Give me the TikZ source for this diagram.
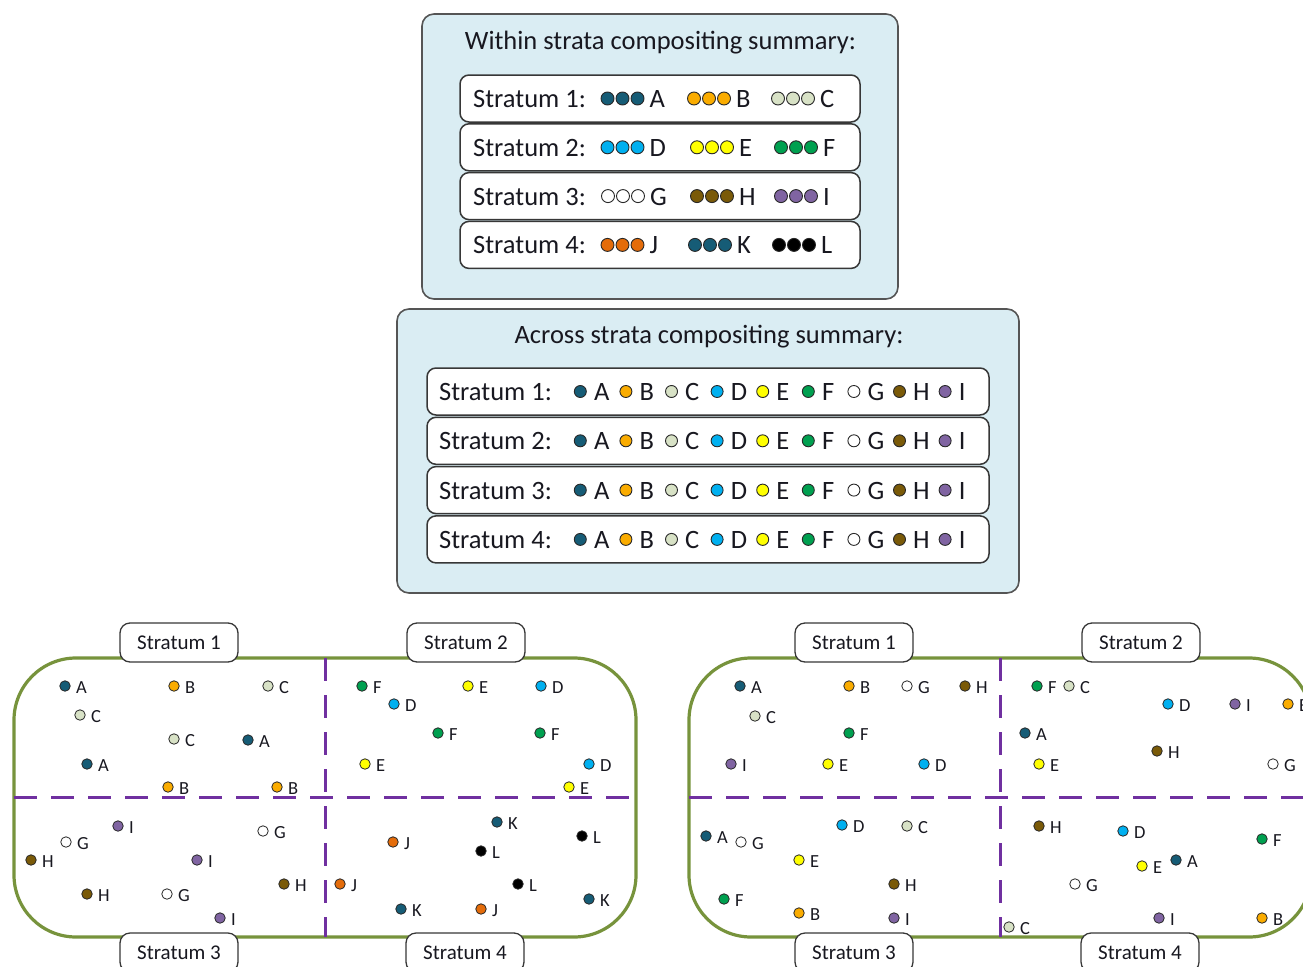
\documentclass[tikz,border=0pt]{standalone}
\usepackage{fontspec}
\setmainfont{Carlito}
\definecolor{cA}{RGB}{22,92,118}
\definecolor{cB}{RGB}{250,172,0}
\definecolor{cC}{RGB}{216,226,198}
\definecolor{cD}{RGB}{0,176,240}
\definecolor{cE}{RGB}{255,255,0}
\definecolor{cF}{RGB}{0,160,80}
\definecolor{cG}{RGB}{255,255,255}
\definecolor{cH}{RGB}{122,90,8}
\definecolor{cI}{RGB}{128,100,162}
\definecolor{cJ}{RGB}{228,108,10}
\definecolor{cK}{RGB}{22,92,118}
\definecolor{cL}{RGB}{0,0,0}
\definecolor{boxfill}{RGB}{218,237,243}
\definecolor{boxline}{RGB}{85,85,85}
\definecolor{rowline}{RGB}{55,55,55}
\definecolor{dotline}{RGB}{40,40,40}
\definecolor{txt}{RGB}{24,24,32}
\definecolor{panelgreen}{RGB}{119,147,60}
\definecolor{divpurple}{RGB}{112,48,160}
\begin{document}
\begin{tikzpicture}[x=1pt,y=-1pt,
  outerbox/.style={draw=boxline, line width=1.6pt, fill=boxfill, rounded corners=12pt, inner sep=0pt},
  rowbox/.style={draw=rowline, line width=1.5pt, fill=white, rounded corners=9pt, inner sep=0pt},
  bigdot/.style={circle, draw=dotline, line width=0.9pt, minimum size=13pt, inner sep=0pt},
  middot/.style={circle, draw=dotline, line width=0.9pt, minimum size=12pt, inner sep=0pt},
  smalldot/.style={circle, draw=dotline, line width=0.8pt, minimum size=10.5pt, inner sep=0pt},
  bigtext/.style={font=\fontsize{26.5}{31}\selectfont, text=txt, inner sep=0pt, anchor=base west},
  titletext/.style={font=\fontsize{26.5}{31}\selectfont, text=txt, inner sep=0pt, anchor=base},
  plab/.style={font=\fontsize{18.5}{21}\selectfont, text=txt, inner sep=0pt, anchor=base west},
  panel/.style={draw=panelgreen, line width=3.2pt, rounded corners=62pt},
  divider/.style={draw=divpurple, line width=3pt, dash pattern=on 23pt off 14pt},
  stratlab/.style={draw=rowline, line width=1.3pt, fill=white, rounded corners=10pt,
    minimum width=118pt, minimum height=39pt, inner sep=0pt,
    font=\fontsize{21}{24}\selectfont, text=txt}
]
\useasboundingbox (0,0) rectangle (1303,966);

% ---------- Within strata box ----------
\node[outerbox, minimum width=476pt, minimum height=285pt] (within) at (660,156.5) {};
\node[titletext] (wtitle) at (660.5,49) {Within strata compositing summary:};
\foreach \r/\yc/\xa/\La/\xb/\Lb/\xc/\Lc in {
  1/98.5/607.5/A/694/B/778/C,
  2/147.3/607.5/D/697/E/781/F,
  3/196.1/608/G/697/H/781/I,
  4/244.9/607.5/J/695/K/779/L} {
  \node[rowbox, minimum width=400pt, minimum height=47pt] (wrow\r) at (660,\yc) {};
  \node[bigtext] (wlab\r) at (473,\yc+9) {Stratum \r:};
  \foreach \gx/\L [count=\g] in {\xa/\La,\xb/\Lb,\xc/\Lc} {
    \foreach \k in {0,1,2} {
      \node[bigdot, fill=c\L] (w\r-\g-\k) at (\gx+15*\k,\yc) {};
    }
    \node[bigtext] (w\r-\g-t) at (\gx+42,\yc+9) {\L};
  }
}

% ---------- Across strata box ----------
\node[outerbox, minimum width=622pt, minimum height=284pt] (across) at (708,451) {};
\node[titletext] (atitle) at (709,343) {Across strata compositing summary:};
\foreach \r/\yc in {1/391.5,2/440.8,3/490.1,4/539.4} {
  \node[rowbox, minimum width=562pt, minimum height=47pt] (arow\r) at (708,\yc) {};
  \node[bigtext] (alab\r) at (439,\yc+9) {Stratum \r:};
  \foreach \L [count=\k from 0] in {A,B,C,D,E,F,G,H,I} {
    \node[middot, fill=c\L] (a\r-\k) at (580.3+45.6*\k,\yc) {};
    \node[bigtext] (a\r-\k-t) at (593.8+45.6*\k,\yc+9) {\L};
  }
}

% ---------- Left panel ----------
\draw[panel] (14,658) rectangle (636,937);
\coordinate (lvt) at (325,658); \coordinate (lvb) at (325,937);
\coordinate (lhl) at (14,797);  \coordinate (lhr) at (636,797);
\draw[divider] (lvt) -- (lvb);
\draw[divider] (lhl) -- (lhr);
\foreach \x/\y/\L [count=\i] in {
  65/686/A, 174/686/B, 268/686/C, 80/715/C, 174/739/C, 248/740/A, 87/764/A, 168/787/B, 277/787/B,
  362/686/F, 468/686/E, 541/686/D, 394/704/D, 438/733/F, 540/733/F, 365/764/E, 589/764/D, 569/787/E,
  118/826/I, 66/842/G, 263/831/G, 31/860/H, 197/860/I, 87/894/H, 167/894/G, 284/884/H, 220/918/I,
  497/822/K, 393/842/J, 481/851/L, 582/836/L, 340/884/J, 518/884/L, 589/899/K, 401/909/K, 481/909/J} {
  \node[smalldot, fill=c\L] (l\i) at (\x,\y) {};
  \node[plab] (l\i t) at (\x+11,\y+7.5) {\L};
}
\node[stratlab] (ls1) at (179,642.5) {Stratum 1};
\node[stratlab] (ls2) at (466,642.5) {Stratum 2};
\node[stratlab] (ls3) at (179,952.5) {Stratum 3};
\node[stratlab] (ls4) at (465,952.5) {Stratum 4};

% ---------- Right panel ----------
\draw[panel] (689,658) rectangle (1311,937);
\coordinate (rvt) at (1000,658); \coordinate (rvb) at (1000,937);
\coordinate (rhl) at (689,797);  \coordinate (rhr) at (1311,797);
\draw[divider] (rvt) -- (rvb);
\draw[divider] (rhl) -- (rhr);
\foreach \x/\y/\L [count=\i] in {
  740/686/A, 849/686/B, 907/686/G, 965/686/H, 755/716/C, 849/733/F, 731/764/I, 828/764/E, 924/764/D,
  1037/686/F, 1069/686/C, 1168/704/D, 1235/704/I, 1288/704/B, 1025/733/A, 1157/751/H, 1039/764/E, 1273/764/G,
  706/836/A, 741/842/G, 842/825/D, 907/826/C, 799/860/E, 894/884/H, 724/899/F, 799/913/B, 894/918/I,
  1039/826/H, 1123/831/D, 1262/839/F, 1142/866/E, 1176/860/A, 1075/884/G, 1009/927/C, 1159/918/I, 1262/918/B} {
  \node[smalldot, fill=c\L] (r\i) at (\x,\y) {};
  \node[plab] (r\i t) at (\x+11,\y+7.5) {\L};
}
\node[stratlab] (rs1) at (854,642.5) {Stratum 1};
\node[stratlab] (rs2) at (1141,642.5) {Stratum 2};
\node[stratlab] (rs3) at (854,952.5) {Stratum 3};
\node[stratlab] (rs4) at (1140,952.5) {Stratum 4};
\end{tikzpicture}
\end{document}
